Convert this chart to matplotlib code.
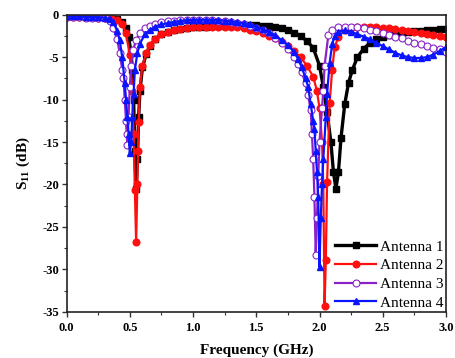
import matplotlib
matplotlib.use("Agg")
import matplotlib.pyplot as plt
from matplotlib.ticker import MultipleLocator

# ---------------- data ----------------
labels = ["Antenna 1", "Antenna 2", "Antenna 3", "Antenna 4"]

f1 = [0.00, 0.05, 0.10, 0.15, 0.20, 0.25, 0.30, 0.35, 0.40, 0.44, 0.47, 0.49,
      0.51, 0.52, 0.53, 0.54, 0.55, 0.56, 0.57, 0.58, 0.60, 0.63, 0.66, 0.70,
      0.75, 0.80, 0.85, 0.90, 0.95, 1.00, 1.05, 1.10, 1.15, 1.20, 1.25, 1.30,
      1.35, 1.40, 1.45, 1.50, 1.55, 1.60, 1.65, 1.70, 1.75, 1.80, 1.85, 1.90,
      1.95, 2.00, 2.03, 2.06, 2.09, 2.11, 2.13, 2.15, 2.17, 2.20, 2.23, 2.26,
      2.30, 2.35, 2.40, 2.45, 2.50, 2.55, 2.60, 2.65, 2.70, 2.75, 2.80, 2.85,
      2.90, 2.95, 3.00]
s1 = [-0.2, -0.2, -0.2, -0.25, -0.25, -0.3, -0.3, -0.35, -0.5, -0.9, -1.6, -2.6,
      -4.5, -6.5, -10, -16, -20.5, -17, -12, -9, -6.2, -4.6, -3.7, -2.9,
      -2.3, -2.0, -1.8, -1.65, -1.55, -1.5, -1.45, -1.4, -1.35, -1.3, -1.3, -1.25,
      -1.25, -1.25, -1.25, -1.25, -1.3, -1.35, -1.45, -1.6, -1.8, -2.1, -2.5, -3.1,
      -3.9, -6.0, -8.5, -11.5, -15, -18.5, -20.5, -18.5, -14.5, -10.5, -8.0, -6.5,
      -5.0, -4.0, -3.3, -2.9, -2.6, -2.4, -2.25, -2.15, -2.05, -1.95, -1.9, -1.85,
      -1.8, -1.7, -1.65]

f2 = [0.00, 0.05, 0.10, 0.15, 0.20, 0.25, 0.30, 0.35, 0.40, 0.44, 0.47, 0.50,
      0.52, 0.53, 0.54, 0.55, 0.56, 0.565, 0.57, 0.58, 0.60, 0.63, 0.66, 0.70,
      0.75, 0.80, 0.85, 0.90, 0.95, 1.00, 1.05, 1.10, 1.15, 1.20, 1.25, 1.30,
      1.35, 1.40, 1.45, 1.50, 1.55, 1.60, 1.65, 1.70, 1.75, 1.80, 1.85, 1.90,
      1.95, 1.98, 2.00, 2.02, 2.03, 2.04, 2.05, 2.06, 2.08, 2.10, 2.12, 2.15,
      2.20, 2.25, 2.30, 2.35, 2.40, 2.45, 2.50, 2.55, 2.60, 2.65, 2.70, 2.75,
      2.80, 2.85, 2.90, 2.95, 3.00]
s2 = [-0.25, -0.25, -0.3, -0.3, -0.3, -0.35, -0.35, -0.4, -0.6, -1.1, -2.2, -4.8,
      -9, -14, -20.7, -26.8, -20, -16, -12.7, -8.5, -6.0, -4.5, -3.6, -2.9,
      -2.3, -2.0, -1.8, -1.65, -1.55, -1.5, -1.45, -1.4, -1.4, -1.4, -1.4, -1.45,
      -1.5, -1.6, -1.75, -1.95, -2.2, -2.5, -2.8, -3.2, -3.7, -4.3, -5.0, -6.0,
      -7.3, -9.0, -11.0, -15.0, -20.0, -34.3, -28.9, -19.7, -10.4, -6.5, -3.8, -2.6,
      -1.8, -1.6, -1.5, -1.45, -1.45, -1.5, -1.55, -1.6, -1.7, -1.8, -1.9, -2.0,
      -2.1, -2.25, -2.35, -2.5, -2.6]

f3 = [0.00, 0.05, 0.10, 0.15, 0.20, 0.25, 0.30, 0.34, 0.37, 0.40, 0.42, 0.44,
      0.45, 0.46, 0.47, 0.475, 0.48, 0.49, 0.50, 0.51, 0.525, 0.55, 0.58, 0.62,
      0.66, 0.70, 0.75, 0.80, 0.85, 0.90, 0.95, 1.00, 1.05, 1.10, 1.15, 1.20,
      1.25, 1.30, 1.35, 1.40, 1.45, 1.50, 1.55, 1.60, 1.65, 1.70, 1.75, 1.80,
      1.83, 1.86, 1.89, 1.91, 1.93, 1.94, 1.95, 1.96, 1.97, 1.98, 1.99, 2.00,
      2.02, 2.03, 2.04, 2.07, 2.10, 2.15, 2.20, 2.25, 2.30, 2.35, 2.40, 2.45,
      2.50, 2.55, 2.60, 2.65, 2.70, 2.75, 2.80, 2.85, 2.90, 2.95, 3.00]
s3 = [-0.3, -0.3, -0.3, -0.35, -0.35, -0.4, -0.45, -0.8, -1.6, -2.9, -4.5, -6.5,
      -7.5, -10, -12.5, -14, -15.3, -12, -8.5, -6.0, -4.2, -3.0, -2.2, -1.6,
      -1.3, -1.1, -0.9, -0.8, -0.7, -0.65, -0.6, -0.6, -0.6, -0.6, -0.65, -0.7,
      -0.75, -0.85, -0.95, -1.1, -1.3, -1.55, -1.85, -2.2, -2.7, -3.3, -4.0, -5.0,
      -5.8, -6.8, -8.1, -9.5, -11.2, -14, -17, -21.5, -28.3, -24, -19, -15,
      -11, -9, -6.0, -2.4, -1.8, -1.5, -1.4, -1.45, -1.5, -1.6, -1.75, -1.95,
      -2.15, -2.4, -2.6, -2.8, -3.05, -3.3, -3.5, -3.7, -3.9, -4.1, -4.35]

f4 = [0.00, 0.05, 0.10, 0.15, 0.20, 0.25, 0.30, 0.34, 0.37, 0.40, 0.42, 0.44,
      0.46, 0.47, 0.48, 0.49, 0.50, 0.51, 0.52, 0.53, 0.54, 0.56, 0.58, 0.62,
      0.66, 0.70, 0.75, 0.80, 0.85, 0.90, 0.95, 1.00, 1.05, 1.10, 1.15, 1.20,
      1.25, 1.30, 1.35, 1.40, 1.45, 1.50, 1.55, 1.60, 1.65, 1.70, 1.75, 1.80,
      1.83, 1.86, 1.89, 1.91, 1.93, 1.95, 1.96, 1.97, 1.98, 1.99, 2.00, 2.01,
      2.02, 2.03, 2.05, 2.06, 2.08, 2.10, 2.12, 2.15, 2.20, 2.25, 2.30, 2.35,
      2.40, 2.45, 2.50, 2.55, 2.60, 2.65, 2.70, 2.75, 2.80, 2.85, 2.90, 2.95,
      3.00]
s4 = [-0.2, -0.2, -0.2, -0.25, -0.25, -0.3, -0.35, -0.5, -0.9, -1.9, -3.0, -5.0,
      -8.1, -10, -12, -14, -16.3, -15, -12, -9.3, -6.5, -4.5, -3.4, -2.3,
      -1.8, -1.4, -1.15, -1.0, -0.85, -0.75, -0.65, -0.6, -0.6, -0.6, -0.6, -0.65,
      -0.7, -0.8, -0.9, -1.0, -1.15, -1.4, -1.7, -2.0, -2.45, -3.0, -3.6, -4.4,
      -5.2, -6.2, -7.5, -8.5, -10.5, -12.5, -13.5, -16, -18.5, -21.5, -29.7, -24,
      -20, -17, -12, -9.3, -5.7, -3.5, -2.5, -2.0, -1.85, -2.0, -2.3, -2.6,
      -2.9, -3.3, -3.7, -4.1, -4.5, -4.8, -5.0, -5.1, -5.1, -5.0, -4.7, -4.3,
      -3.8]

xticks = [0.0, 0.5, 1.0, 1.5, 2.0, 2.5, 3.0]
yticks = [0, -5, -10, -15, -20, -25, -30, -35]

# ---------------- style ----------------
plt.rcParams['font.family'] = ['Liberation Serif', 'DejaVu Serif']
plt.rcParams['mathtext.fontset'] = 'custom'
plt.rcParams['mathtext.rm'] = 'Liberation Serif'
plt.rcParams['mathtext.bf'] = 'Liberation Serif:bold'

fig = plt.figure(figsize=(4.56, 3.58), dpi=100)
ax = fig.add_axes([0.146, 0.129, 0.832, 0.830])

styles = [
    dict(color='black', lw=2.4, marker='s', ms=4.5, mfc='black', mec='black'),
    dict(color='#ff1010', lw=1.6, marker='o', ms=4.8, mfc='#ff1010', mec='#ff1010'),
    dict(color='#8a22c8', lw=1.6, marker='o', ms=5.0, mfc='white', mec='#8a22c8', mew=0.8),
    dict(color='#0a14ff', lw=1.6, marker='^', ms=5.0, mfc='#0a14ff', mec='#0a14ff'),
]
series = [(f1, s1), (f2, s2), (f3, s3), (f4, s4)]
for (f, s), st, lab in zip(series, styles, labels):
    ax.plot(f, s, label=lab, **st)

ax.set_xlim(0, 3.0)
ax.set_ylim(-35, 0)
ax.set_xticks(xticks)
ax.set_yticks(yticks)
ax.set_xticklabels([f"{t:.1f}" for t in xticks], fontweight='bold', fontsize=9)
ax.set_yticklabels([str(t) for t in yticks], fontweight='bold', fontsize=9)
ax.xaxis.set_minor_locator(MultipleLocator(0.25))
ax.yaxis.set_minor_locator(MultipleLocator(2.5))
ax.tick_params(which='major', direction='out', length=3.5, width=1.0, color='#333333')
ax.tick_params(axis='x', which='major', pad=4)
ax.tick_params(axis='y', which='major', pad=2)
ax.tick_params(which='minor', direction='out', length=2.0, width=0.8, color='#333333')
for sp in ax.spines.values():
    sp.set_linewidth(1.2)
    sp.set_color('#222222')

ax.set_xlabel('Frequency (GHz)', fontweight='bold', fontsize=11, labelpad=7)
ax.set_ylabel(r'S$_{\mathbf{11}}$ (dB)', fontweight='bold', fontsize=11, labelpad=7)

leg = ax.legend(loc='lower right', frameon=False, fontsize=11, handlelength=2.7,
                handletextpad=0.25, labelspacing=0.32, borderaxespad=0.0,
                borderpad=0.15, numpoints=1)

fig.savefig('out.png', dpi=100)
